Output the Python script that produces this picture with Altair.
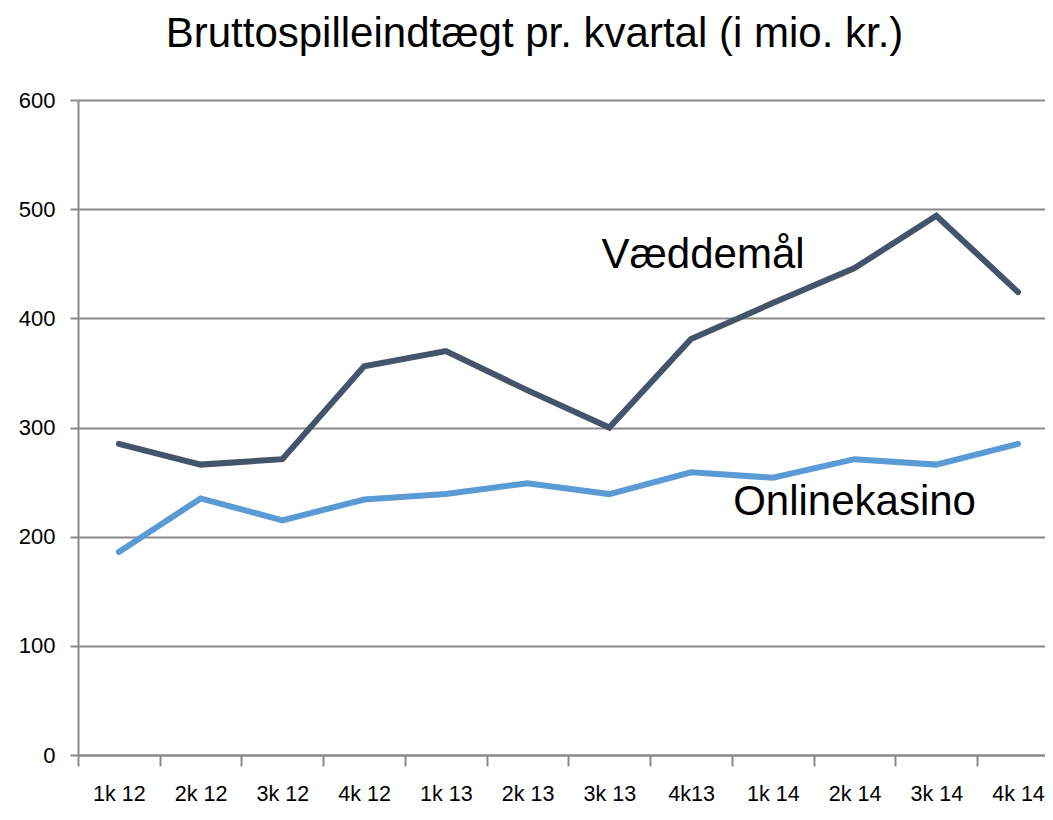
import json
import altair as alt
import pandas as pd

quarters = ["1k 12", "2k 12", "3k 12", "4k 12", "1k 13", "2k 13", "3k 13",
            "4k13", "1k 14", "2k 14", "3k 14", "4k 14"]
vaeddemaal = [285, 266, 271, 356, 370, 334, 300, 381, 414, 446, 494, 424]
onlinekasino = [186, 235, 215, 234, 239, 249, 239, 259, 254, 271, 266, 285]

series_names = ["Væddemål", "Onlinekasino"]
series_colors = ["#44546A", "#5B9BD5"]

label_text = ["Væddemål", "Onlinekasino"]
label_quarter = ["4k13", "2k 14"]
label_y = [446, 220]

rows = []
for i, (q, v) in enumerate(zip(quarters, vaeddemaal)):
    rows.append({"idx": i, "kvartal": q, "serie": "Væddemål", "value": v})
for i, (q, v) in enumerate(zip(quarters, onlinekasino)):
    rows.append({"idx": i, "kvartal": q, "serie": "Onlinekasino", "value": v})
df = pd.DataFrame(rows)

lab = pd.DataFrame({"text": label_text,
                    "idx": [quarters.index(q) for q in label_quarter],
                    "value": label_y})

W, H = 967, 655
x_domain = [-0.5, 11.33]
step_px = W / (x_domain[1] - x_domain[0])
boundaries = [i - 0.5 for i in range(len(quarters))]
label_expr = json.dumps(quarters) + "[round(datum.value + 0.5)]"

x_axis = alt.Axis(title=None, values=boundaries, labelExpr=label_expr,
                  labelOffset=step_px / 2, labelAngle=0, labelFlush=False,
                  labelOverlap=False, labelBound=False, grid=False,
                  ticks=True, tickSize=11, tickColor="#898989", tickWidth=2,
                  domain=True, domainColor="#898989", domainWidth=2,
                  labelFont="Liberation Sans", labelFontSize=21.5,
                  labelColor="#000000", labelPadding=17)
x = alt.X("idx:Q", scale=alt.Scale(domain=x_domain, nice=False, zero=False), axis=x_axis)
y = alt.Y("value:Q",
          scale=alt.Scale(domain=[0, 600], nice=False),
          axis=alt.Axis(title=None, values=[0, 100, 200, 300, 400, 500, 600],
                        grid=True, gridColor="#898989", gridWidth=2,
                        ticks=True, tickSize=8, tickColor="#898989", tickWidth=2,
                        domain=True, domainColor="#898989", domainWidth=2,
                        labelFont="Liberation Sans", labelFontSize=22,
                        labelColor="#000000", labelPadding=15))

lines = alt.Chart(df).mark_line(strokeWidth=6, strokeCap="round", strokeJoin="miter").encode(
    x=x, y=y,
    color=alt.Color("serie:N", scale=alt.Scale(domain=series_names, range=series_colors), legend=None),
    detail="serie:N",
)

text1 = alt.Chart(lab[lab["text"] == "Væddemål"]).mark_text(
    font="Liberation Sans", fontSize=42, color="#000000", align="center",
    baseline="alphabetic", dx=12).encode(
    x=alt.X("idx:Q"), y=alt.Y("value:Q"), text="text:N")
text2 = alt.Chart(lab[lab["text"] == "Onlinekasino"]).mark_text(
    font="Liberation Sans", fontSize=42, color="#000000", align="center",
    baseline="alphabetic", dx=0).encode(
    x=alt.X("idx:Q"), y=alt.Y("value:Q"), text="text:N")

chart = alt.layer(lines, text1, text2).properties(
    width=W, height=H,
    title=alt.TitleParams("Bruttospilleindtægt pr. kvartal (i mio. kr.)",
                          font="Liberation Sans", fontSize=42, fontWeight="normal",
                          color="#000000", anchor="middle", dx=-27, offset=-9,
                          baseline="bottom"),
    autosize=alt.AutoSizeParams(type="none"),
    padding={"left": 70, "top": 92, "right": 0, "bottom": 53},
).configure_view(stroke=None).configure(background="white")

chart.save("out.html", embed_options={"renderer": "svg", "actions": False})
